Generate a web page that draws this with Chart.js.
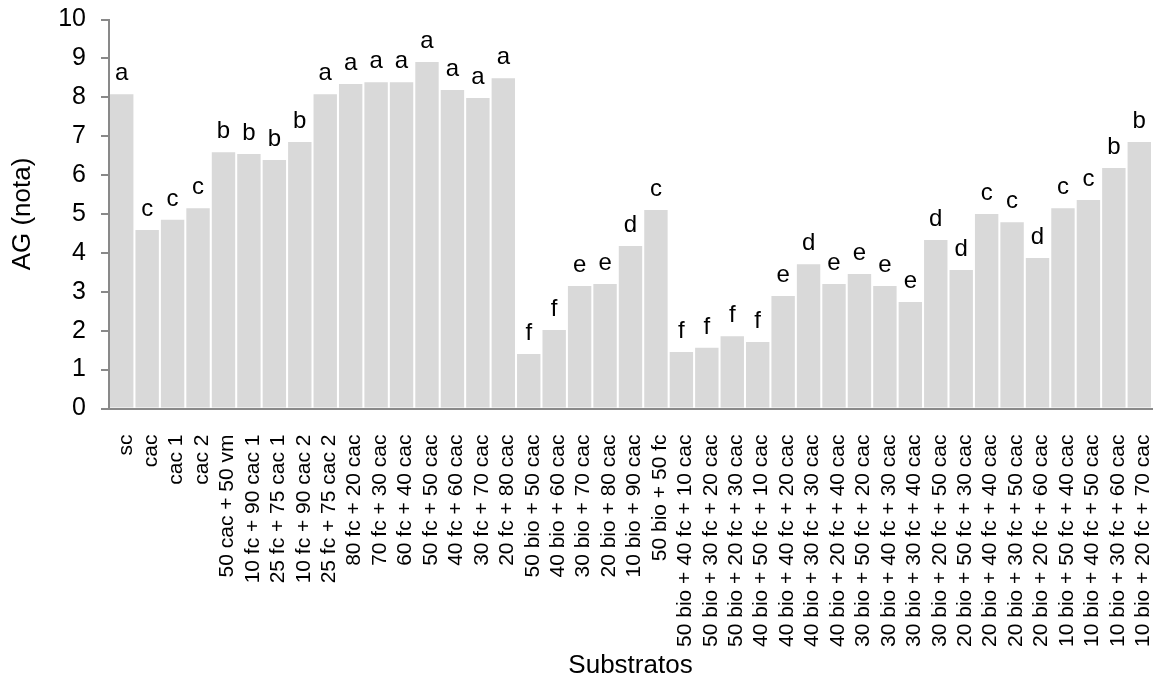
<!DOCTYPE html>
<html>
<head>
<meta charset="utf-8">
<script src="https://cdn.jsdelivr.net/npm/chart.js@4/dist/chart.umd.min.js"></script>
<style>
  html, body { margin: 0; padding: 0; background: #fff; }
  #wrap { width: 1159px; height: 679px; }
</style>
</head>
<body>
<div id="wrap"><canvas id="chart" width="1159" height="679"></canvas></div>
<script>
const categories = [
  "sc", "cac", "cac 1", "cac 2", "50 cac + 50 vm",
  "10 fc + 90 cac 1", "25 fc + 75 cac 1", "10 fc + 90 cac 2", "25 fc + 75 cac 2",
  "80 fc + 20 cac", "70 fc + 30 cac", "60 fc + 40 cac", "50 fc + 50 cac",
  "40 fc + 60 cac", "30 fc + 70 cac", "20 fc + 80 cac",
  "50 bio + 50 cac", "40 bio + 60 cac", "30 bio + 70 cac", "20 bio + 80 cac",
  "10 bio + 90 cac", "50 bio + 50 fc",
  "50 bio + 40 fc + 10 cac", "50 bio + 30 fc + 20 cac", "50 bio + 20 fc + 30 cac",
  "40 bio + 50 fc + 10 cac", "40 bio + 40 fc + 20 cac", "40 bio + 30 fc + 30 cac",
  "40 bio + 20 fc + 40 cac", "30 bio + 50 fc + 20 cac", "30 bio + 40 fc + 30 cac",
  "30 bio + 30 fc + 40 cac", "30 bio + 20 fc + 50 cac", "20 bio + 50 fc + 30 cac",
  "20 bio + 40 fc + 40 cac", "20 bio + 30 fc + 50 cac", "20 bio + 20 fc + 60 cac",
  "10 bio + 50 fc + 40 cac", "10 bio + 40 fc + 50 cac", "10 bio + 30 fc + 60 cac",
  "10 bio + 20 fc + 70 cac"
];

const agValues = [
  8.08, 4.59, 4.85, 5.15, 6.59,
  6.54, 6.39, 6.85, 8.08,
  8.34, 8.39, 8.39, 8.91,
  8.19, 7.98, 8.49,
  1.40, 2.02, 3.15, 3.20,
  4.18, 5.10,
  1.45, 1.56, 1.86,
  1.71, 2.89, 3.71,
  3.20, 3.46, 3.15,
  2.74, 4.33, 3.56,
  5.00, 4.79, 3.87,
  5.15, 5.36, 6.18,
  6.85
];

const letters = [
  "a", "c", "c", "c", "b",
  "b", "b", "b", "a",
  "a", "a", "a", "a",
  "a", "a", "a",
  "f", "f", "e", "e",
  "d", "c",
  "f", "f", "f",
  "f", "e", "d",
  "e", "e", "e",
  "e", "d", "d",
  "c", "c", "d",
  "c", "c", "b",
  "b"
];

const FONT = "'Liberation Sans', Arial, sans-serif";
const AXIS_GRAY = "#898989";

// letters above each bar
const letterPlugin = {
  id: "letters",
  afterDatasetsDraw(chart) {
    const ctx = chart.ctx;
    const meta = chart.getDatasetMeta(0);
    ctx.save();
    ctx.font = "24px " + FONT;
    ctx.fillStyle = "#000";
    ctx.textAlign = "center";
    ctx.textBaseline = "alphabetic";
    meta.data.forEach((bar, i) => {
      ctx.fillText(letters[i], bar.x, bar.y - 14);
    });
    ctx.restore();
  }
};

const ctx = document.querySelector("#chart").getContext("2d");
const myChart = new Chart(ctx, {
  type: "bar",
  data: {
    labels: categories,
    datasets: [{
      data: agValues,
      backgroundColor: "#d9d9d9",
      borderWidth: 0,
      barPercentage: 0.92,
      categoryPercentage: 1
    }]
  },
  options: {
    responsive: false,
    animation: false,
    devicePixelRatio: 1,
    layout: { padding: { left: 0, right: 7, top: 19.5, bottom: 0 } },
    plugins: {
      legend: { display: false },
      tooltip: { enabled: false }
    },
    scales: {
      x: {
        grid: { display: false, drawTicks: false },
        border: { display: true, color: AXIS_GRAY, width: 2 },
        ticks: {
          autoSkip: false,
          minRotation: 90,
          maxRotation: 90,
          padding: 26,
          labelOffset: 4,
          color: "#000",
          font: { family: FONT, size: 21 }
        },
        title: {
          display: true,
          text: "Substratos",
          color: "#000",
          font: { family: FONT, size: 26, lineHeight: 1 },
          padding: { top: 0, bottom: 0 }
        },
        afterFit(scale) {
          scale.height = 270.5;
          scale.paddingLeft = 0;
          scale.paddingRight = 0;
        }
      },
      y: {
        min: 0,
        max: 10,
        grid: {
          drawOnChartArea: false,
          drawTicks: true,
          tickLength: 8,
          color: AXIS_GRAY,
          lineWidth: 2
        },
        border: { display: true, color: AXIS_GRAY, width: 2 },
        ticks: {
          stepSize: 1,
          padding: 15,
          color: "#000",
          font: { family: FONT, size: 25 }
        },
        title: {
          display: true,
          text: "AG (nota)",
          color: "#000",
          font: { family: FONT, size: 26, lineHeight: 1.2 },
          padding: { top: 7, bottom: 0 }
        },
        afterFit(scale) {
          scale.width = 109;
          scale.paddingTop = 0;
          scale.paddingBottom = 0;
        }
      }
    }
  },
  plugins: [letterPlugin]
});
</script>
</body>
</html>
